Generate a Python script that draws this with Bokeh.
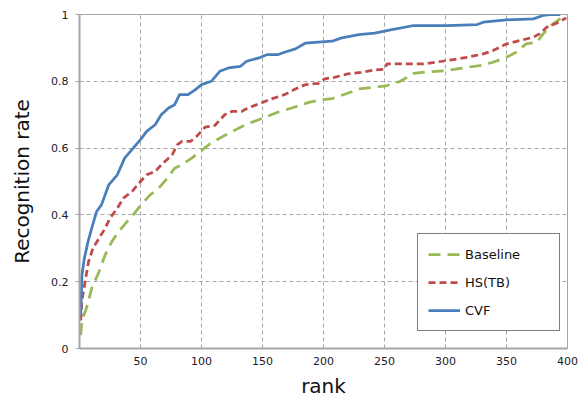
from bokeh.plotting import figure
from bokeh.models import Range1d, FixedTicker, Legend, LegendItem
from bokeh.embed import file_html
from bokeh.resources import INLINE

# ---- data ----
cvf_rank = [1, 2, 4, 7, 10, 14, 18, 24, 31, 37, 44, 51, 55, 62, 67, 73, 78, 82, 89, 95,
            100, 108, 115, 122, 132, 137, 147, 154, 163, 168, 177, 185, 196, 207, 215, 229,
            242, 250, 255, 274, 301, 326, 331, 350, 372, 380, 388, 394]
cvf_rate = [0.10, 0.22, 0.27, 0.32, 0.36, 0.41, 0.43, 0.49, 0.52, 0.57, 0.60, 0.63, 0.65,
            0.67, 0.70, 0.72, 0.73, 0.76, 0.76, 0.775, 0.79, 0.80, 0.83, 0.84, 0.845, 0.86,
            0.87, 0.88, 0.88, 0.887, 0.897, 0.914, 0.917, 0.92, 0.93, 0.94, 0.944, 0.95,
            0.954, 0.967, 0.967, 0.97, 0.977, 0.984, 0.987, 0.997, 1.0, 1.0]

hs_rank = [1, 2, 4.6, 7.4, 11, 16, 21, 25, 31, 36, 43, 50, 55, 62, 67, 76, 80, 84, 91, 96,
           103, 111, 119, 125, 133, 138, 149, 157, 168, 177, 185, 196, 201, 209, 220, 231,
           242, 250, 252, 282, 301, 318, 331, 339, 350, 361, 372, 377, 383, 391, 399]
hs_rate = [0.084, 0.144, 0.20, 0.26, 0.30, 0.33, 0.36, 0.39, 0.42, 0.45, 0.47, 0.50, 0.52,
           0.53, 0.55, 0.58, 0.61, 0.62, 0.62, 0.635, 0.663, 0.668, 0.70, 0.71, 0.71, 0.72,
           0.735, 0.747, 0.76, 0.777, 0.79, 0.794, 0.807, 0.812, 0.822, 0.827, 0.834, 0.836,
           0.852, 0.852, 0.862, 0.872, 0.882, 0.892, 0.912, 0.922, 0.932, 0.942, 0.962,
           0.974, 0.99]

base_rank = [1, 2, 6, 10, 16, 21, 26.5, 32, 39, 44, 51, 58, 65, 72, 78, 84, 92, 99, 107,
             119, 127, 136, 149, 163, 174, 188, 199, 207, 218, 229, 248, 252, 263, 274, 285,
             301, 318, 328, 339, 350, 358, 366, 375, 380, 388, 396, 400]
base_rate = [0.04, 0.084, 0.124, 0.18, 0.23, 0.28, 0.32, 0.35, 0.38, 0.40, 0.433, 0.46,
             0.48, 0.51, 0.54, 0.55, 0.57, 0.59, 0.613, 0.638, 0.653, 0.67, 0.688, 0.708,
             0.72, 0.737, 0.745, 0.748, 0.762, 0.777, 0.785, 0.787, 0.80, 0.824, 0.828,
             0.832, 0.842, 0.847, 0.857, 0.872, 0.887, 0.912, 0.917, 0.942, 0.972, 0.992,
             1.0]

x_ticks = [50, 100, 150, 200, 250, 300, 350, 400]
y_ticks = [0, 0.2, 0.4, 0.6, 0.8, 1.0]
y_tick_labels = ["0", "0.2", "0.4", "0.6", "0.8", "1"]

FONT = "DejaVu Sans"

p = figure(width=582, height=405, output_backend="svg", toolbar_location=None,
           x_range=Range1d(0, 400), y_range=Range1d(0, 1))
p.min_border_left = 79
p.min_border_right = 15
p.min_border_top = 14
p.min_border_bottom = 57
p.background_fill_color = "white"
p.border_fill_color = "white"
p.outline_line_color = "#a6a6a6"
p.outline_line_width = 1

# axes
p.xaxis.ticker = FixedTicker(ticks=x_ticks)
p.yaxis.ticker = FixedTicker(ticks=y_ticks)
p.yaxis.major_label_overrides = {t: l for t, l in zip(y_ticks, y_tick_labels)}
for ax in (p.xaxis[0], p.yaxis[0]):
    ax.axis_line_color = "#a6a6a6"
    ax.axis_line_width = 2
    ax.major_tick_line_color = "#a6a6a6"
    ax.minor_tick_line_color = None
    ax.major_label_text_font = FONT
    ax.major_label_text_font_size = "11px"
    ax.major_label_text_color = "#1a1a2a"
    ax.axis_label_text_font = FONT
    ax.axis_label_text_font_size = "20px"
    ax.axis_label_text_font_style = "normal"
    ax.axis_label_text_color = "#111111"
p.xaxis.major_tick_out = 0
p.xaxis.major_tick_in = 0
p.xaxis.major_label_standoff = 8
p.xaxis.axis_label = "rank"
p.xaxis.axis_label_standoff = 6
p.yaxis.major_tick_out = 4
p.yaxis.major_tick_in = 0
p.yaxis.major_label_standoff = 7
p.yaxis.axis_label = "Recognition rate"
p.yaxis.axis_label_standoff = 14

# grid
p.xgrid.grid_line_color = "#a6a6a6"
p.xgrid.grid_line_dash = "4 3"
p.ygrid.grid_line_color = "#a6a6a6"
p.ygrid.grid_line_dash = "4 3"

# series
r_base = p.line(base_rank, base_rate, line_color="#98B954", line_width=2.75,
                line_dash="12 7", line_join="round")
r_hs = p.line(hs_rank, hs_rate, line_color="#BE4B48", line_width=2.75,
              line_dash="7 4", line_join="round")
r_cvf = p.line(cvf_rank, cvf_rate, line_color="#4A7EBB", line_width=2.75,
               line_join="round")

legend = Legend(items=[LegendItem(label="Baseline", renderers=[r_base]),
                       LegendItem(label="HS(TB)", renderers=[r_hs]),
                       LegendItem(label="CVF", renderers=[r_cvf])],
                location=(338, 17))
legend.border_line_color = "black"
legend.border_line_width = 1
legend.background_fill_color = "white"
legend.background_fill_alpha = 1
legend.label_text_font = FONT
legend.label_text_font_size = "13px"
legend.label_text_color = "#111111"
legend.glyph_width = 32
legend.glyph_height = 20
legend.label_standoff = 5
legend.spacing = 8
legend.padding = 10
legend.margin = 0
legend.label_width = 84
p.add_layout(legend, "center")

open("out.html", "w").write(file_html(p, INLINE))
